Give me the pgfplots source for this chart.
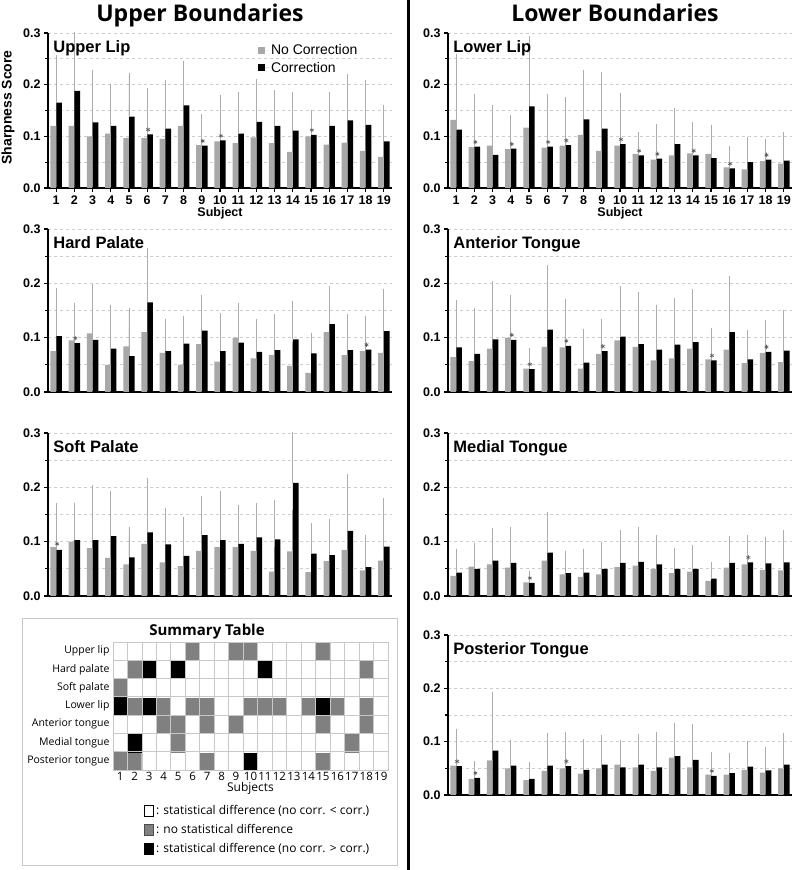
\documentclass[border=0pt]{standalone}
\usepackage{fontspec}
\setmainfont{Liberation Sans}
\newfontfamily\hfont{Open Sans}
\usepackage{pgfplots}
\pgfplotsset{compat=1.18}
\usepackage{pgfplotstable}

\definecolor{barg}{RGB}{168,168,168}
\definecolor{errc}{RGB}{172,172,172}
\definecolor{gridc}{RGB}{205,205,205}
\definecolor{astc}{RGB}{90,90,90}
\definecolor{sgray}{RGB}{128,128,128}
\definecolor{sgrid}{RGB}{200,200,200}
\newcommand\fs[1]{\fontsize{#1}{#1}\selectfont}

% s = subject, g/gt = no correction mean / top of error bar, b/bt = correction
\pgfplotstableread{
s g gt b bt
1 0.120 0.212 0.165 0.254
2 0.120 0.192 0.188 0.300
3 0.100 0.173 0.127 0.225
4 0.105 0.175 0.120 0.198
5 0.097 0.165 0.138 0.218
6 0.097 0.190 0.104 0.170
7 0.095 0.172 0.115 0.205
8 0.120 0.205 0.160 0.242
9 0.083 0.139 0.082 0.137
10 0.090 0.173 0.092 0.177
11 0.087 0.165 0.105 0.182
12 0.098 0.167 0.128 0.207
13 0.087 0.140 0.120 0.185
14 0.070 0.131 0.111 0.182
15 0.100 0.148 0.103 0.143
16 0.084 0.147 0.120 0.182
17 0.088 0.157 0.131 0.216
18 0.072 0.127 0.122 0.205
19 0.060 0.118 0.090 0.157
}\ulip

\pgfplotstableread{
s g gt b bt
1 0.132 0.255 0.113 0.233
2 0.079 0.175 0.080 0.178
3 0.082 0.156 0.064 0.127
4 0.075 0.137 0.076 0.137
5 0.117 0.210 0.158 0.290
6 0.078 0.175 0.080 0.178
7 0.082 0.168 0.083 0.172
8 0.103 0.185 0.133 0.224
9 0.072 0.143 0.115 0.220
10 0.082 0.180 0.085 0.180
11 0.066 0.104 0.063 0.094
12 0.055 0.113 0.057 0.120
13 0.063 0.117 0.085 0.150
14 0.067 0.124 0.063 0.119
15 0.066 0.119 0.058 0.095
16 0.040 0.077 0.038 0.064
17 0.036 0.068 0.050 0.095
18 0.052 0.085 0.055 0.090
19 0.047 0.098 0.053 0.104
}\llip

\pgfplotstableread{
s g gt b bt
1 0.075 0.148 0.103 0.188
2 0.095 0.160 0.090 0.146
3 0.108 0.195 0.096 0.180
4 0.050 0.102 0.080 0.157
5 0.084 0.150 0.066 0.120
6 0.110 0.195 0.165 0.262
7 0.072 0.124 0.075 0.130
8 0.050 0.100 0.089 0.137
9 0.088 0.147 0.113 0.175
10 0.056 0.104 0.075 0.142
11 0.100 0.160 0.091 0.160
12 0.062 0.106 0.074 0.131
13 0.068 0.123 0.077 0.140
14 0.048 0.088 0.097 0.163
15 0.035 0.068 0.071 0.105
16 0.110 0.180 0.125 0.192
17 0.068 0.130 0.077 0.140
18 0.075 0.135 0.078 0.137
19 0.072 0.128 0.112 0.186
}\hpal

\pgfplotstableread{
s g gt b bt
1 0.064 0.135 0.082 0.165
2 0.057 0.126 0.070 0.150
3 0.080 0.173 0.097 0.200
4 0.100 0.168 0.096 0.175
5 0.043 0.077 0.042 0.070
6 0.083 0.173 0.115 0.230
7 0.082 0.165 0.085 0.168
8 0.043 0.088 0.054 0.112
9 0.070 0.122 0.075 0.130
10 0.095 0.185 0.102 0.192
11 0.083 0.162 0.088 0.180
12 0.058 0.115 0.078 0.157
13 0.062 0.127 0.087 0.170
14 0.080 0.158 0.092 0.185
15 0.060 0.115 0.058 0.108
16 0.078 0.148 0.110 0.210
17 0.053 0.105 0.060 0.110
18 0.072 0.127 0.074 0.128
19 0.055 0.110 0.076 0.148
}\atng

\pgfplotstableread{
s g gt b bt
1 0.090 0.167 0.085 0.160
2 0.100 0.165 0.103 0.168
3 0.088 0.178 0.103 0.200
4 0.070 0.140 0.110 0.190
5 0.058 0.108 0.071 0.123
6 0.096 0.178 0.117 0.213
7 0.062 0.120 0.095 0.158
8 0.055 0.100 0.074 0.142
9 0.083 0.148 0.112 0.180
10 0.090 0.174 0.103 0.190
11 0.090 0.163 0.096 0.163
12 0.083 0.140 0.108 0.168
13 0.045 0.087 0.104 0.173
14 0.082 0.155 0.208 0.300
15 0.044 0.080 0.078 0.130
16 0.064 0.127 0.075 0.138
17 0.085 0.168 0.120 0.220
18 0.047 0.098 0.053 0.108
19 0.065 0.138 0.091 0.177
}\spal

\pgfplotstableread{
s g gt b bt
1 0.037 0.068 0.043 0.083
2 0.054 0.093 0.050 0.087
3 0.058 0.105 0.065 0.122
4 0.052 0.088 0.061 0.123
5 0.025 0.042 0.024 0.040
6 0.065 0.120 0.080 0.150
7 0.040 0.070 0.042 0.080
8 0.035 0.066 0.043 0.083
9 0.040 0.074 0.050 0.095
10 0.053 0.098 0.061 0.118
11 0.056 0.110 0.063 0.123
12 0.050 0.094 0.058 0.108
13 0.042 0.070 0.050 0.084
14 0.045 0.087 0.050 0.090
15 0.028 0.048 0.032 0.058
16 0.052 0.095 0.061 0.107
17 0.058 0.107 0.062 0.108
18 0.048 0.080 0.060 0.105
19 0.047 0.084 0.062 0.117
}\mtng

\pgfplotstableread{
s g gt b bt
1 0.055 0.117 0.054 0.120
2 0.030 0.057 0.032 0.060
3 0.065 0.153 0.083 0.190
4 0.050 0.090 0.055 0.100
5 0.028 0.053 0.030 0.058
6 0.045 0.090 0.055 0.112
7 0.050 0.110 0.054 0.114
8 0.040 0.085 0.047 0.101
9 0.050 0.097 0.057 0.109
10 0.057 0.100 0.052 0.091
11 0.052 0.102 0.057 0.110
12 0.045 0.102 0.052 0.115
13 0.070 0.125 0.073 0.132
14 0.052 0.102 0.066 0.130
15 0.038 0.077 0.036 0.073
16 0.038 0.070 0.041 0.075
17 0.047 0.089 0.053 0.098
18 0.042 0.078 0.046 0.086
19 0.050 0.093 0.057 0.112
}\ptng

\tikzset{ptitle/.style={anchor=north west, inner sep=0pt, font=\bfseries\fs{16.5}}}

\pgfplotsset{
  /pgf/number format/assume math mode=true,
  panel/.style={
    anchor=south west, scale only axis, width=344pt,
    xmin=0.55, xmax=19.45, ymin=0, ymax=0.3,
    axis lines*=left,
    axis line style={-, line width=1.3pt},
    ytick={0,0.1,0.2,0.3}, minor ytick={0.05,0.15,0.25},
    yticklabel style={/pgf/number format/fixed, /pgf/number format/fixed zerofill, /pgf/number format/precision=1},
    ymajorgrids, yminorgrids,
    major grid style={gridc, dashed, line width=0.7pt},
    minor grid style={gridc, dashed, line width=0.7pt},
    tick align=outside, major tick length=4pt, minor tick length=3pt,
    tick style={black, line width=1.1pt},
    xtick=\empty,
    tick label style={font=\bfseries\fs{12.5}},
  },
  showx/.style={xtick={1,...,19}, xlabel={Subject}, xlabel style={font=\bfseries\fs{12.5}, yshift=4pt}},
}

\newcommand\bars[1]{%
  \addplot[ybar, bar width=5.6pt, bar shift=-2.9pt, fill=barg, draw=none, forget plot,
    error bars/.cd, y dir=plus, y explicit,
    error bar style={errc, line width=0.8pt},
    error mark options={errc, line width=0.8pt, mark size=2pt}]
    table[x=s, y=g, y error expr=\thisrow{gt}-\thisrow{g}] {#1};
  \addplot[ybar, bar width=5.6pt, bar shift=2.9pt, fill=black, draw=none, forget plot,
    error bars/.cd, y dir=plus, y explicit,
    error bar style={errc, line width=0.8pt},
    error mark options={errc, line width=0.8pt, mark size=2pt}]
    table[x=s, y=b, y error expr=\thisrow{bt}-\thisrow{b}] {#1};
}
\newcommand\stars[1]{%
  \addplot[only marks, mark=asterisk, mark size=2.2pt,
    mark options={astc, line width=0.6pt}, forget plot] coordinates {#1};
}

\begin{document}
\begin{tikzpicture}
\useasboundingbox (0pt,0pt) rectangle (800pt,870pt);
\node[anchor=base, font=\hfont\bfseries\fs{23}] at (200pt,848pt) {Upper Boundaries};
\node[anchor=base, font=\hfont\bfseries\fs{23}] at (615pt,848pt) {Lower Boundaries};
\draw[line width=3pt] (408pt,0pt) -- (408pt,870pt);

% Upper lip
\begin{axis}[panel, showx, at={(48pt,682pt)}, height=155pt,
  ylabel={Sharpness Score},
  ylabel style={font=\bfseries\fs{14}, at={(axis description cs:-0.116,0.52)}, anchor=center},
  legend style={at={(axis description cs:0.61,0.94)}, anchor=north west,
    draw=none, fill=none, font=\fs{14}, row sep=2pt, inner sep=0pt},
  legend cell align=left,
  legend image code/.code={\fill[#1] (0pt,-3.5pt) rectangle (7pt,3.5pt); \path (0pt,0pt) -- (11pt,0pt);},
]
\addlegendimage{fill=barg, draw=none}\addlegendentry{No Correction}
\addlegendimage{fill=black, draw=none}\addlegendentry{Correction}
\bars{\ulip}
\stars{(6.05,0.113)(9.05,0.091)(10.05,0.101)(15.05,0.112)}
\node[ptitle] at (rel axis cs:0.015,0.955) {Upper Lip};
\end{axis}

% Lower lip
\begin{axis}[panel, showx, at={(448pt,682pt)}, height=155pt]
\bars{\llip}
\stars{(2.05,0.089)(4.05,0.085)(6.05,0.089)(7.05,0.092)(10.05,0.094)(11.05,0.072)(12.05,0.066)(14.05,0.072)(16.05,0.047)(18.05,0.064)}
\node[ptitle] at (rel axis cs:0.015,0.955) {Lower Lip};
\end{axis}

% Hard palate
\begin{axis}[panel, at={(48pt,478pt)}, height=163pt]
\bars{\hpal}
\stars{(2.05,0.099)(18.05,0.087)}
\node[ptitle] at (rel axis cs:0.015,0.953) {Hard Palate};
\end{axis}

% Anterior tongue
\begin{axis}[panel, at={(448pt,478pt)}, height=163pt]
\bars{\atng}
\stars{(4.05,0.105)(5.05,0.051)(7.05,0.094)(9.05,0.084)(15.05,0.067)(18.05,0.083)}
\node[ptitle] at (rel axis cs:0.015,0.953) {Anterior Tongue};
\end{axis}

% Soft palate
\begin{axis}[panel, at={(48pt,274pt)}, height=163pt]
\bars{\spal}
\stars{(1.05,0.096)}
\node[ptitle] at (rel axis cs:0.015,0.953) {Soft Palate};
\end{axis}

% Medial tongue
\begin{axis}[panel, at={(448pt,274pt)}, height=163pt]
\bars{\mtng}
\stars{(5.05,0.033)(17.05,0.071)}
\node[ptitle] at (rel axis cs:0.015,0.953) {Medial Tongue};
\end{axis}

% Posterior tongue
\begin{axis}[panel, at={(448pt,75pt)}, height=160pt]
\bars{\ptng}
\stars{(1.05,0.063)(2.05,0.041)(7.05,0.063)(15.05,0.045)}
\node[ptitle] at (rel axis cs:0.015,0.953) {Posterior Tongue};
\end{axis}

% Summary table
\draw[sgrid, line width=1pt] (22pt,4pt) rectangle (397pt,251pt);
\node[font=\hfont\bfseries\fs{15}] at (207pt,238pt) {Summary Table};
\begin{axis}[anchor=south west, at={(113pt,100pt)}, scale only axis,
  width=275pt, height=128pt,
  xmin=0.5, xmax=19.5, ymin=0.5, ymax=7.5, enlargelimits=false,
  xtick={1,...,19}, ytick={1,...,7},
  yticklabels={Posterior tongue,Medial tongue,Anterior tongue,Lower lip,Soft palate,Hard palate,Upper lip},
  minor xtick={0.5,1.5,...,19.5}, minor ytick={0.5,1.5,...,7.5},
  xminorgrids, yminorgrids,
  minor grid style={sgrid, line width=0.8pt},
  major tick length=0pt, minor tick length=0pt,
  axis line style={sgrid, line width=0.8pt},
  axis on top,
  colormap={summ}{rgb255=(255,255,255) rgb255=(128,128,128) rgb255=(0,0,0)},
  point meta min=0, point meta max=2,
  xticklabel style={font=\hfont\fs{11.5}, yshift=1pt},
  yticklabel style={font=\hfont\fs{10.5}},
  xlabel={Subjects}, xlabel style={font=\hfont\fs{12}, yshift=5pt},
  legend style={at={(axis description cs:0.113,-0.26)}, anchor=north west,
    draw=none, fill=none, font=\hfont\fs{12}, row sep=4pt, inner sep=0pt},
  legend cell align=left,
  legend image code/.code={\draw[#1] (0pt,-6pt) rectangle (9pt,5pt);},
]
\addlegendimage{fill=white, draw=black, line width=0.8pt}
\addlegendentry{: statistical difference (no corr. < corr.)}
\addlegendimage{fill=sgray, draw=black!70, line width=0.8pt}
\addlegendentry{: no statistical difference}
\addlegendimage{fill=black, draw=black, line width=0.8pt}
\addlegendentry{: statistical difference (no corr. > corr.)}
\addplot[matrix plot*, mesh/cols=19, point meta=explicit, forget plot] coordinates {
(1,1)[1] (2,1)[1] (3,1)[0] (4,1)[0] (5,1)[0] (6,1)[0] (7,1)[1] (8,1)[0] (9,1)[0] (10,1)[2] (11,1)[0] (12,1)[0] (13,1)[0] (14,1)[0] (15,1)[1] (16,1)[0] (17,1)[0] (18,1)[0] (19,1)[0]
(1,2)[0] (2,2)[2] (3,2)[0] (4,2)[0] (5,2)[1] (6,2)[0] (7,2)[0] (8,2)[0] (9,2)[0] (10,2)[0] (11,2)[0] (12,2)[0] (13,2)[0] (14,2)[0] (15,2)[0] (16,2)[0] (17,2)[1] (18,2)[0] (19,2)[0]
(1,3)[0] (2,3)[0] (3,3)[0] (4,3)[1] (5,3)[1] (6,3)[0] (7,3)[1] (8,3)[0] (9,3)[1] (10,3)[0] (11,3)[0] (12,3)[0] (13,3)[0] (14,3)[0] (15,3)[1] (16,3)[0] (17,3)[0] (18,3)[1] (19,3)[0]
(1,4)[2] (2,4)[1] (3,4)[2] (4,4)[1] (5,4)[0] (6,4)[1] (7,4)[1] (8,4)[0] (9,4)[0] (10,4)[1] (11,4)[1] (12,4)[1] (13,4)[0] (14,4)[1] (15,4)[2] (16,4)[1] (17,4)[0] (18,4)[1] (19,4)[0]
(1,5)[1] (2,5)[0] (3,5)[0] (4,5)[0] (5,5)[0] (6,5)[0] (7,5)[0] (8,5)[0] (9,5)[0] (10,5)[0] (11,5)[0] (12,5)[0] (13,5)[0] (14,5)[0] (15,5)[0] (16,5)[0] (17,5)[0] (18,5)[0] (19,5)[0]
(1,6)[0] (2,6)[1] (3,6)[2] (4,6)[0] (5,6)[2] (6,6)[0] (7,6)[0] (8,6)[0] (9,6)[0] (10,6)[0] (11,6)[2] (12,6)[0] (13,6)[0] (14,6)[0] (15,6)[0] (16,6)[0] (17,6)[0] (18,6)[1] (19,6)[0]
(1,7)[0] (2,7)[0] (3,7)[0] (4,7)[0] (5,7)[0] (6,7)[1] (7,7)[0] (8,7)[0] (9,7)[1] (10,7)[1] (11,7)[0] (12,7)[0] (13,7)[0] (14,7)[0] (15,7)[1] (16,7)[0] (17,7)[0] (18,7)[0] (19,7)[0]
};
\end{axis}
\end{tikzpicture}
\end{document}
